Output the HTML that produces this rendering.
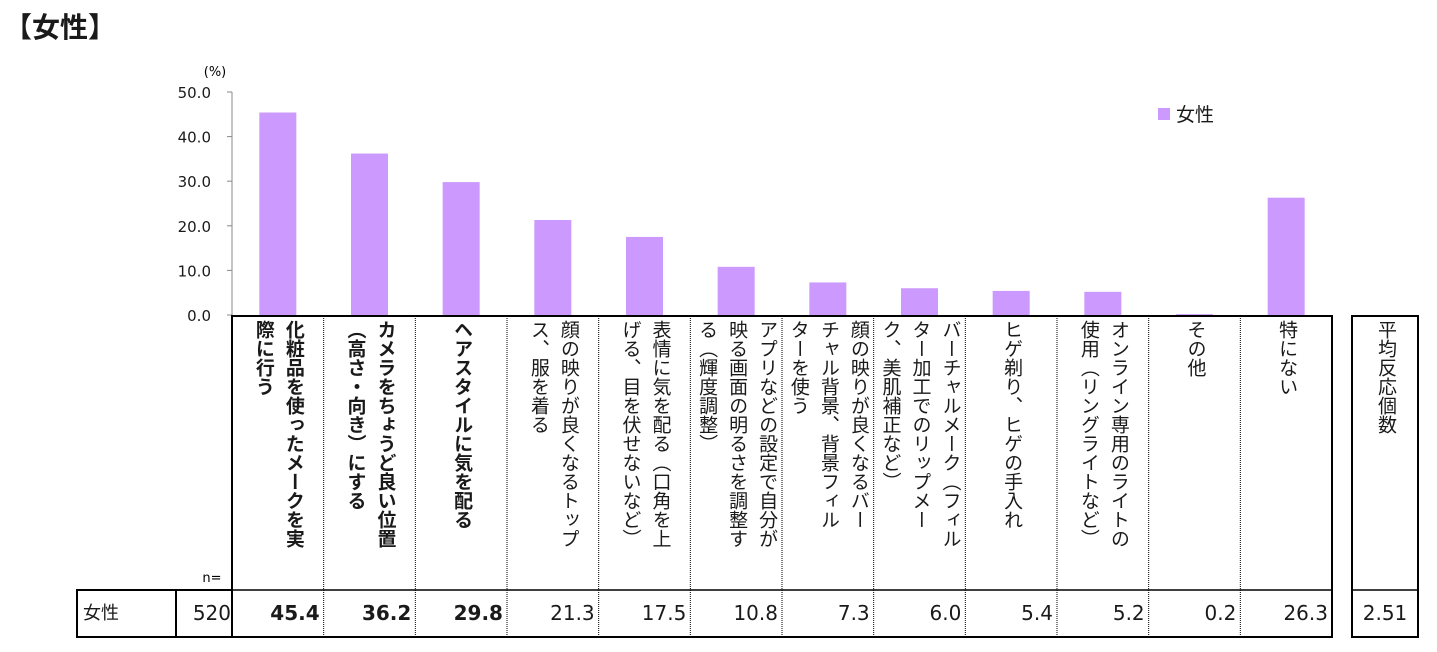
<!DOCTYPE html>
<html><head><meta charset="utf-8"><style>
body{margin:0;width:1437px;height:652px;background:#fff;position:relative;overflow:hidden;font-family:"Liberation Sans","Noto Sans CJK JP",sans-serif;color:#1a1a1a}
.abs{position:absolute}
.lbl{position:absolute;top:320px;height:265px;display:flex;justify-content:center;}
.lbl div{writing-mode:vertical-rl;font-size:19px;line-height:30px;}
.val{position:absolute;top:590px;height:47px;line-height:47px;text-align:right;font-size:20px;font-family:"DejaVu Sans","Noto Sans CJK JP",sans-serif;}
</style></head><body>
<div class="abs" style="left:4px;top:6px;font-size:28px;font-weight:bold">【女性】</div>
<svg class="abs" style="left:0;top:0" width="1437" height="652" id="chart"></svg>
<div id="tbl"></div>
<script>
const categories=["化粧品を使ったメークを実\n際に行う","カメラをちょうど良い位置\n（高さ・向き）にする","ヘアスタイルに気を配る","顔の映りが良くなるトップ\nス、服を着る","表情に気を配る（口角を上\nげる、目を伏せないなど）","アプリなどの設定で自分が\n映る画面の明るさを調整す\nる（輝度調整）","顔の映りが良くなるバー\nチャル背景、背景フィル\nターを使う","バーチャルメーク（フィル\nター加工でのリップメー\nク、美肌補正など）","ヒゲ剃り、ヒゲの手入れ","オンライン専用のライトの\n使用（リングライトなど）","その他","特にない"];
const values=[45.4,36.2,29.8,21.3,17.5,10.8,7.3,6.0,5.4,5.2,0.2,26.3];
const boldCount=3;
const yTicks=["0.0","10.0","20.0","30.0","40.0","50.0"];
const nValue="520", avgValue="2.51";
const NS="http://www.w3.org/2000/svg";
const svg=document.getElementById('chart');
const x0=232,x1=1332,y0=315,yTop=92,yMax=50;
const colW=(x1-x0)/categories.length;
const y=v=>y0-(v/yMax)*(y0-yTop);
const xc=i=>x0+colW*(i+0.5);
function mk(t,a){const e=document.createElementNS(NS,t);for(const k in a)e.setAttribute(k,a[k]);svg.appendChild(e);return e;}
let ax=mk('line',{x1:x0,y1:yTop,x2:x0,y2:y0,stroke:'#888','stroke-width':1});


yTicks.forEach(t=>{const v=parseFloat(t);
 let tk=mk('line',{x1:x0-5,y1:y(v),x2:x0,y2:y(v),stroke:'#888'});
 
 
 let tx=mk('text',{x:211,y:y(v)+6,'text-anchor':'end','font-size':15,fill:'#1a1a1a','font-family':'DejaVu Sans, sans-serif'});tx.textContent=t;
 
 
});
let un=mk('text',{x:215,y:76,'text-anchor':'middle','font-size':13,'font-family':'DejaVu Sans, sans-serif'});un.textContent='(%)';


values.forEach((v,i)=>{let b=mk('rect',{x:xc(i)-18.5,y:y(v),width:37,height:y0-y(v),fill:'#cc99ff'});
 
 });
let lg=mk('rect',{x:1158,y:108,width:12,height:12,fill:'#cc99ff'});


let lt=mk('text',{x:1176,y:121,'font-size':19,fill:'#1a1a1a'});lt.textContent='女性';


mk('rect',{x:x0,y:316,width:x1-x0,height:321,fill:'none',stroke:'#000','stroke-width':2});
mk('line',{x1:x0,y1:590,x2:x1,y2:590,stroke:'#000','stroke-width':1.5});
for(let i=1;i<categories.length;i++)mk('line',{x1:x0+colW*i,y1:316,x2:x0+colW*i,y2:637,stroke:'#000','stroke-dasharray':'1,1'});
mk('rect',{x:77,y:590,width:155,height:47,fill:'none',stroke:'#000','stroke-width':2});
mk('line',{x1:176,y1:590,x2:176,y2:637,stroke:'#000','stroke-width':2});
mk('rect',{x:1352,y:316,width:66,height:321,fill:'none',stroke:'#000','stroke-width':2});
mk('line',{x1:1352,y1:590,x2:1418,y2:590,stroke:'#000','stroke-width':1.5});
let nn=mk('text',{x:212,y:582,'text-anchor':'middle','font-size':13,'font-family':'DejaVu Sans, sans-serif'});nn.textContent='n=';


const tbl=document.getElementById('tbl');
function div(cls,style,html,name){const d=document.createElement('div');d.className=cls;d.style.cssText=style;d.innerHTML=html;
 
 
 tbl.appendChild(d);return d;}
categories.forEach((c,i)=>{
 const bold=i<boldCount?'font-weight:bold;':'';
 div('lbl','left:'+(x0+colW*i)+'px;width:'+colW+'px;','<div style="'+bold+'">'+c.replace(/\n/g,'<br>')+'</div>','category-label');
 div('val','left:'+(x0+colW*i)+'px;width:'+(colW-4)+'px;'+bold,values[i].toFixed(1),'value-cell');
});
div('val','left:77px;width:60px;text-align:left;padding-left:6px;font-size:18px;font-family:"Liberation Sans","Noto Sans CJK JP",sans-serif','女性','row-label');
div('val','left:176px;width:55px;',nValue,'n-value');
div('lbl','left:1352px;width:66px;','<div>平均反応個数</div>','avg-header');
div('val','left:1352px;width:66px;text-align:center',avgValue,'avg-value');
</script>
</body></html>
